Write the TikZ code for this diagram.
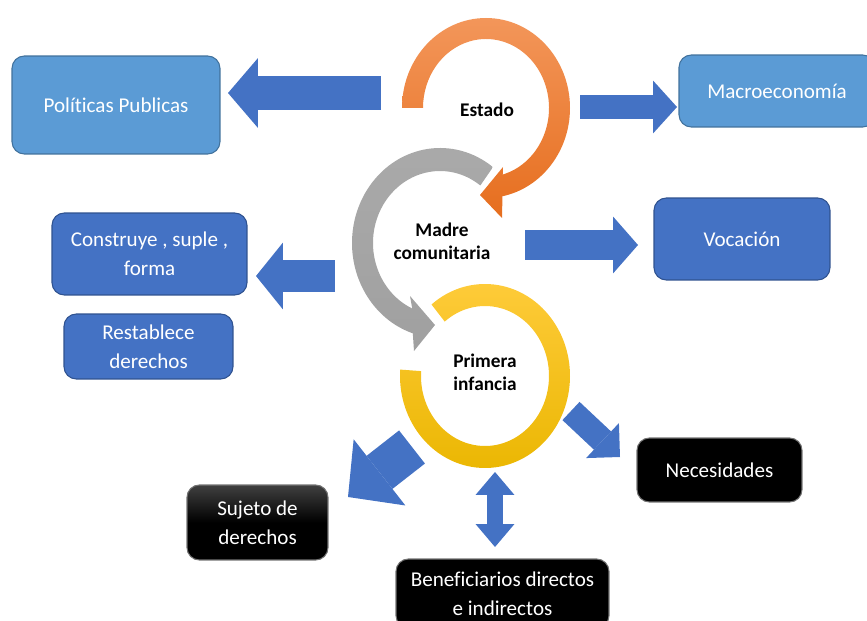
\documentclass[tikz,border=0pt]{standalone}
\usepackage{fontspec}
\setmainfont{Carlito}[Ligatures=NoCommon]
\usetikzlibrary{arrows.meta}
\definecolor{arrowblue}{RGB}{68,114,196}
\definecolor{edgeblue}{RGB}{47,82,143}
\definecolor{lightblue}{RGB}{91,155,213}
\definecolor{edgelight}{RGB}{65,113,156}
\definecolor{orangetop}{RGB}{243,150,90}
\definecolor{orangebot}{RGB}{230,110,30}
\definecolor{greytop}{RGB}{170,170,170}
\definecolor{greybot}{RGB}{160,160,160}
\definecolor{yellowtop}{RGB}{255,204,60}
\definecolor{yellowbot}{RGB}{234,182,0}
\begin{document}
\begin{tikzpicture}[x=0.02cm, y=0.02cm,
    box/.style={rounded corners=7pt, fill=arrowblue, draw=edgeblue, line width=0.6pt,
      text=white, align=center, inner sep=0pt, font=\fontsize{12}{16.5}\selectfont},
    lightbox/.style={box, fill=lightblue, draw=edgelight},
    blackbox/.style={box, fill=black, draw=black!55},
    ringlabel/.style={align=center, font=\bfseries\fontsize{11}{13}\selectfont},
    blockarrow/.style n args={3}{draw=arrowblue, line width=#1,
      arrows={-Triangle[width=#2, length=#3, line width=0pt]}},
    dblarrow/.style n args={3}{draw=arrowblue, line width=#1,
      arrows={Triangle[width=#2, length=#3, line width=0pt]-Triangle[width=#2, length=#3, line width=0pt]}}]
  \useasboundingbox (0,0) rectangle (867,620);

  % Primera infancia ring
  \shade[top color=yellowtop, bottom color=yellowbot, shift={(485,244)}]
    (129:85 and 92) arc[start angle=129, end angle=-184, x radius=85, y radius=92]
    -- (-184:64 and 70) arc[start angle=-184, end angle=129, x radius=64, y radius=70] -- cycle;
  % Madre comunitaria ring
  \shade[top color=greytop, bottom color=greybot, shift={(440,377)}]
    (53:88 and 95) arc[start angle=53, end angle=252, x radius=88, y radius=95]
    -- (-26,-108) -- (-5,-82) -- (-30,-53)
    -- (245.5:67 and 72) arc[start angle=245.5, end angle=53, x radius=67, y radius=72] -- cycle;
  % Estado ring
  \shade[top color=orangetop, bottom color=orangebot, shift={(486,512)}]
    (180:84 and 90) arc[start angle=180, end angle=-78.7, x radius=84, y radius=90]
    -- (16,-110) -- (-6,-87) -- (17,-59)
    -- (-74.6:63 and 69) arc[start angle=-74.6, end angle=180, x radius=63, y radius=69] -- cycle;

  % Ring labels
  \node[ringlabel] (estado) at (487,510) {Estado};
  \node[ringlabel] (madre) at (442,379) {Madre\\comunitaria};
  \node[ringlabel] (infancia) at (485,248) {Primera\\infancia};

  % Boxes
  \node[lightbox, minimum width=4.16cm, minimum height=1.96cm] (pol) at (116,515) {Políticas Publicas};
  \node[lightbox, minimum width=3.92cm, minimum height=1.44cm] (macro) at (777,529) {Macroeconomía};
  \node[box, minimum width=3.52cm, minimum height=1.64cm] (voc) at (742,381) {Vocación};
  \node[box, minimum width=3.9cm, minimum height=1.64cm] (cons) at (149.5,366) {Construye , suple ,\\forma};
  \node[box, minimum width=3.38cm, minimum height=1.3cm] (rest) at (148.5,273.5) {Restablece\\derechos};
  \node[blackbox, top color=black!75, bottom color=black, middle color=black,
    minimum width=2.82cm, minimum height=1.5cm] (suj) at (257.5,97.5) {Sujeto de\\derechos};
  \node[blackbox, minimum width=3.3cm, minimum height=1.28cm] (nec) at (719.5,150) {Necesidades};
  \node[blackbox, minimum width=4.26cm, minimum height=1.38cm] (ben) at (502.5,26.5) {Beneficiarios directos\\e indirectos};

  % Arrows
  \coordinate (pol-from) at (381,527);
  \coordinate (pol-to) at (228,527);
  \draw[blockarrow={0.7cm}{1.4cm}{0.6cm}] (pol-from) -- (pol-to);
  \coordinate (macro-from) at (580,513);
  \coordinate (macro-to) at (677,513);
  \draw[blockarrow={0.48cm}{1.06cm}{0.48cm}] (macro-from) -- (macro-to);
  \coordinate (voc-from) at (525,375);
  \coordinate (voc-to) at (638,375);
  \draw[blockarrow={0.6cm}{1.14cm}{0.5cm}] (voc-from) -- (voc-to);
  \coordinate (cons-from) at (335,344);
  \coordinate (cons-to) at (256,344);
  \draw[blockarrow={0.66cm}{1.34cm}{0.54cm}] (cons-from) -- (cons-to);
  \coordinate (suj-from) at (412,173);
  \coordinate (suj-to) at (348,123);
  \draw[blockarrow={0.84cm}{1.68cm}{0.8cm}] (suj-from) -- (suj-to);
  \coordinate (nec-from) at (571,209);
  \coordinate (nec-to) at (620,163);
  \draw[blockarrow={0.5cm}{0.96cm}{0.48cm}] (nec-from) -- (nec-to);
  \coordinate (ben-from) at (495,148);
  \coordinate (ben-to) at (495,73);
  \draw[dblarrow={0.34cm}{0.78cm}{0.46cm}] (ben-from) -- (ben-to);
\end{tikzpicture}
\end{document}
